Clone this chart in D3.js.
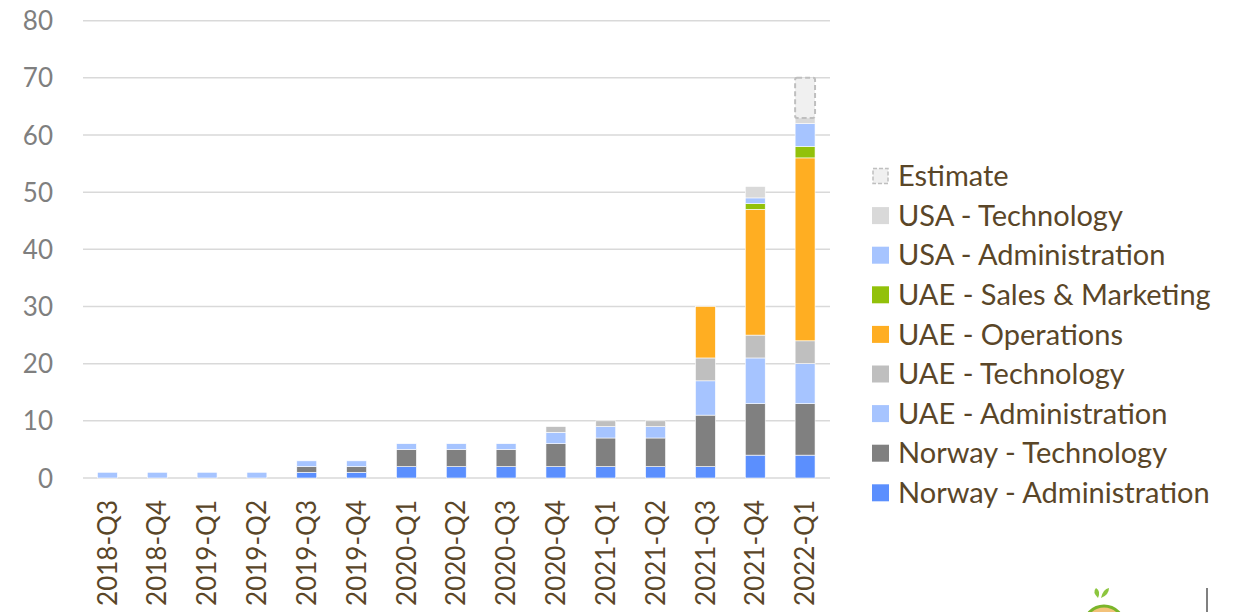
<!DOCTYPE html>
<html><head><meta charset="utf-8">
<script src="https://cdn.jsdelivr.net/npm/d3@7"></script>
<style>body{margin:0;background:#fff;} svg{display:block;}</style>
</head><body>
<svg id="chart" width="1236" height="612"></svg>
<script>
const quarters = ["2018-Q3","2018-Q4","2019-Q1","2019-Q2","2019-Q3","2019-Q4","2020-Q1","2020-Q2","2020-Q3","2020-Q4","2021-Q1","2021-Q2","2021-Q3","2021-Q4","2022-Q1"];
const seriesNames = ["Norway - Administration","Norway - Technology","UAE - Administration","UAE - Technology","UAE - Operations","UAE - Sales & Marketing","USA - Administration","USA - Technology","Estimate"];
const norwayAdmin = [0,0,0,0,1,1,2,2,2,2,2,2,2,4,4];
const norwayTech  = [0,0,0,0,1,1,3,3,3,4,5,5,9,9,9];
const uaeAdmin    = [1,1,1,1,1,1,1,1,1,2,2,2,6,8,7];
const uaeTech     = [0,0,0,0,0,0,0,0,0,1,1,1,4,4,4];
const uaeOps      = [0,0,0,0,0,0,0,0,0,0,0,0,9,22,32];
const uaeSales    = [0,0,0,0,0,0,0,0,0,0,0,0,0,1,2];
const usaAdmin    = [0,0,0,0,0,0,0,0,0,0,0,0,0,1,4];
const usaTech     = [0,0,0,0,0,0,0,0,0,0,0,0,0,2,1];
const estimate    = [0,0,0,0,0,0,0,0,0,0,0,0,0,0,7];
const yTicks = [0,10,20,30,40,50,60,70,80];

const seriesValues = [norwayAdmin,norwayTech,uaeAdmin,uaeTech,uaeOps,uaeSales,usaAdmin,usaTech,estimate];
const colors = ["#5b8ffe","#808080","#a6c4ff","#bfbfbf","#ffae22","#92c10a","#a6c4ff","#d9d9d9","#f0f0f0"];

const rows = quarters.map((q,i)=>{const r={q}; seriesNames.forEach((s,j)=>r[s]=seriesValues[j][i]); return r;});
const stack = d3.stack().keys(seriesNames)(rows);

const svg = d3.select("#chart");
const x = d3.scaleBand().domain(quarters).range([82.5,830]).paddingInner(0.6).paddingOuter(0.3);
const y = d3.scaleLinear().domain([0,80]).range([478,20.7]);

// grid
svg.append("g").selectAll("line").data(yTicks).join("line")
  .attr("x1",83).attr("x2",830).attr("y1",d=>y(d)).attr("y2",d=>y(d))
  .attr("stroke","#d9d9d9").attr("stroke-width",1.5);

// y axis labels
const yAxis = d3.axisLeft(y).tickValues(yTicks).tickSize(0).tickPadding(0);
const yg = svg.append("g").attr("transform","translate(53,0)").call(yAxis);
yg.select(".domain").remove();
yg.selectAll("text").attr("font-family","Lato, 'Open Sans', sans-serif").attr("font-size",26).attr("fill","#7f7f7f").attr("dy","0.35em");

// bars
stack.forEach((layer,j)=>{
  const isEst = seriesNames[j]==="Estimate";
  svg.append("g").selectAll("rect").data(layer.filter(d=>d[1]-d[0]>0)).join("rect")
    .attr("x",d=>x(d.data.q)).attr("width",x.bandwidth())
    .attr("y",d=>y(d[1])).attr("height",d=>y(d[0])-y(d[1]))
    .attr("fill",colors[j])
    .attr("stroke",isEst?"#bfbfbf":"#ffffff")
    .attr("stroke-width",isEst?2:0.6)
    .attr("stroke-dasharray",isEst?"5,3":null)
    .attr("rx",isEst?2:0);
});

// x axis labels
const xAxis = d3.axisBottom(x).tickSize(0).tickPadding(0);
const xg = svg.append("g").attr("transform","translate(0,500)").call(xAxis);
xg.select(".domain").remove();
xg.selectAll("text").attr("font-family","Lato, 'Open Sans', sans-serif").attr("font-size",26).attr("fill","#5a4628")
  .attr("text-anchor","end").attr("transform","rotate(-90)").attr("x",0).attr("y",0).attr("dy","0.35em");

// legend
const legendOrder = seriesNames.slice().reverse();
const lg = svg.append("g").attr("transform","translate(872,176)");
legendOrder.forEach((name,i)=>{
  const j = seriesNames.indexOf(name);
  const g = lg.append("g").attr("transform",`translate(0,${i*39.6})`);
  const isEst = name==="Estimate";
  g.append("rect").attr("x",isEst?1:0).attr("y",isEst?-7.5:-8.5).attr("width",isEst?15:17).attr("height",isEst?15:17)
    .attr("fill",colors[j]).attr("stroke",isEst?"#bfbfbf":"none").attr("stroke-width",isEst?1.5:0)
    .attr("stroke-dasharray",isEst?"4,2":null);
  g.append("text").attr("x",26).attr("y",0).attr("dy","0.35em")
    .attr("font-family","Lato, 'Open Sans', sans-serif").attr("font-size",29).attr("fill","#5a4628").text(name);
});

// logo fragment at bottom right
const logo = svg.append("g");
logo.append("circle").attr("cx",1104).attr("cy",626).attr("r",20).attr("fill","#f3c27a").attr("stroke","#7bb52a").attr("stroke-width",3);
logo.append("path").attr("d","M1098,598 q-6,-6 -2,-10 q5,3 2,10z").attr("fill","#8cc63f");
logo.append("path").attr("d","M1101,598 q2,-9 8,-10 q0,7 -8,10z").attr("fill","#8cc63f");
logo.append("line").attr("x1",1207).attr("x2",1207).attr("y1",588).attr("y2",612).attr("stroke","#808080").attr("stroke-width",2);
</script>
</body></html>
